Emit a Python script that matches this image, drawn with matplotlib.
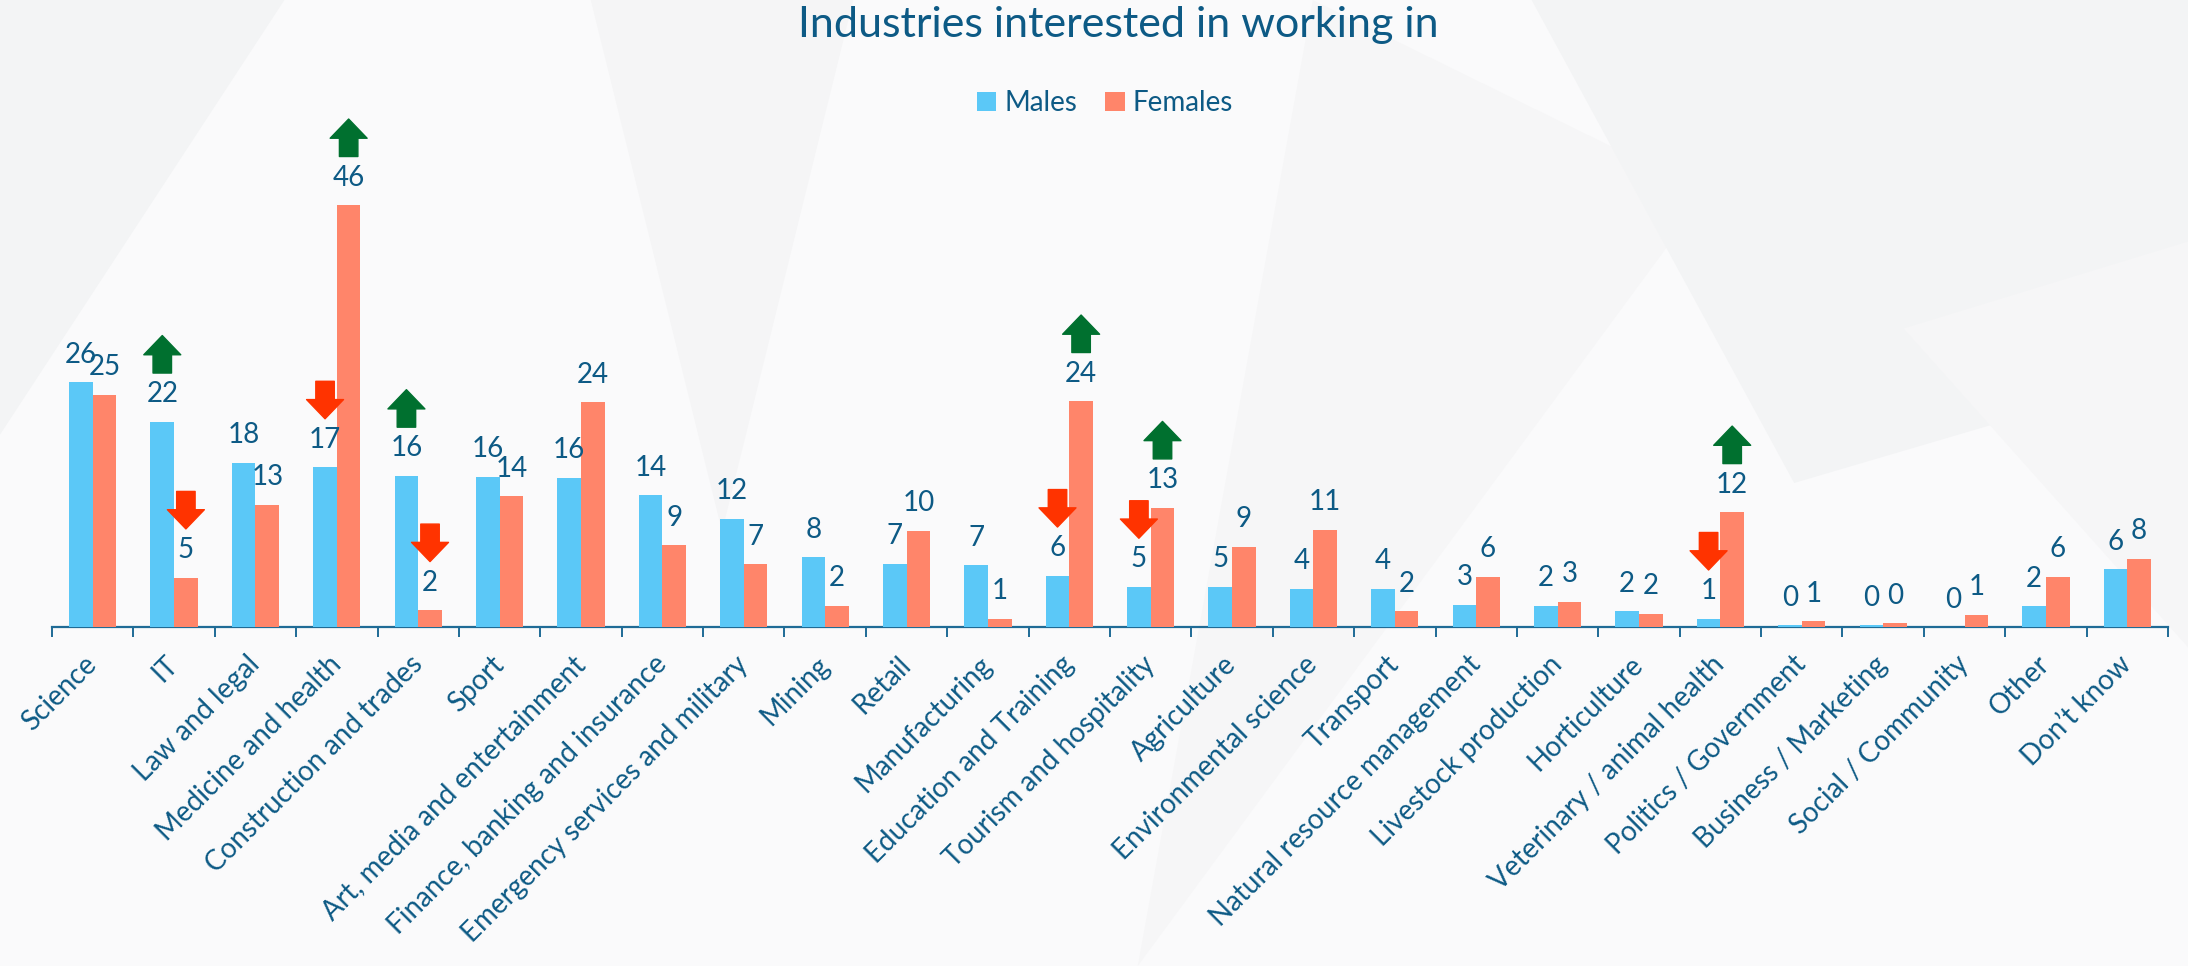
import numpy as np
import matplotlib.pyplot as plt
from matplotlib.transforms import offset_copy
from matplotlib.patches import Polygon

plt.rcParams['font.family'] = ['Lato', 'DejaVu Sans']

# data (bar heights in %, printed labels are rounded)
industries = ["Science", "IT", "Law and legal", "Medicine and health",
              "Construction and trades", "Sport", "Art, media and entertainment",
              "Finance, banking and insurance", "Emergency services and military",
              "Mining", "Retail", "Manufacturing", "Education and Training",
              "Tourism and hospitality", "Agriculture", "Environmental science",
              "Transport", "Natural resource management", "Livestock production",
              "Horticulture", "Veterinary / animal health", "Politics / Government",
              "Business / Marketing", "Social / Community", "Other", "Don\u2019t know"]
males = [26.2, 22.0, 17.6, 17.1, 16.2, 16.1, 16.0, 14.1, 11.6, 7.5, 6.8, 6.6, 5.5,
         4.3, 4.3, 4.1, 4.1, 2.4, 2.3, 1.7, 0.9, 0.2, 0.2, 0.0, 2.2, 6.2]
females = [24.9, 5.3, 13.1, 45.2, 1.8, 14.0, 24.1, 8.75, 6.7, 2.3, 10.3, 0.9, 24.2,
           12.8, 8.6, 10.4, 1.7, 5.4, 2.7, 1.4, 12.3, 0.6, 0.4, 1.3, 5.4, 7.3]
male_labels = [26, 22, 18, 17, 16, 16, 16, 14, 12, 8, 7, 7, 6, 5, 5, 4, 4, 3, 2, 2, 1, 0, 0, 0, 2, 6]
female_labels = [25, 5, 13, 46, 2, 14, 24, 9, 7, 2, 10, 1, 24, 13, 9, 11, 2, 6, 3, 2, 12, 1, 0, 1, 6, 8]
# change markers: (industry index, series, direction)
changes = [(1, "M", "up"), (1, "F", "down"),
           (3, "M", "down"), (3, "F", "up"),
           (4, "M", "up"), (4, "F", "down"),
           (12, "M", "down"), (12, "F", "up"),
           (13, "M", "down"), (13, "F", "up"),
           (20, "M", "down"), (20, "F", "up")]

blue = "#5BC8F7"
salmon = "#FF856A"
text_col = "#0D5A85"
green = "#00702F"
red = "#FF3300"

fig = plt.figure(figsize=(21.88, 9.66), dpi=100)
fig.patch.set_facecolor("#FAFAFB")

# faint geometric background
for pts, c in [
    ([(0.0, 1.0), (0.13, 1.0), (0.0, 0.55)], "#F3F4F5"),
    ([(0.27, 1.0), (0.39, 1.0), (0.33, 0.45)], "#F5F5F6"),
    ([(0.60, 1.0), (0.78, 0.80), (0.52, 0.0)], "#F6F6F7"),
    ([(0.70, 1.0), (1.0, 1.0), (1.0, 0.62), (0.82, 0.50)], "#F3F4F5"),
    ([(0.87, 0.66), (1.0, 0.33), (1.0, 0.75)], "#F6F6F7"),
]:
    fig.patches.append(Polygon(pts, closed=True, transform=fig.transFigure,
                               facecolor=c, edgecolor="none", zorder=-10))

ax = fig.add_axes([52 / 2188, 1 - 627 / 966, 2116 / 2188, 560 / 966])
ax.patch.set_alpha(0)

x = np.arange(len(industries))
w = 0.29
bm = ax.bar(x - w / 2, males, w, color=blue, label="Males", zorder=3)
bf = ax.bar(x + w / 2, females, w, color=salmon, label="Females", zorder=3)

ax.set_xlim(-0.5, len(industries) - 0.5)
ax.set_ylim(0, 60)

for xi, v, lab in zip(x - w / 2, males, male_labels):
    ax.annotate(str(lab), (xi, v), xytext=(0, 14), textcoords="offset points",
                ha="center", va="baseline", fontsize=20, color=text_col)
for xi, v, lab in zip(x + w / 2, females, female_labels):
    ax.annotate(str(lab), (xi, v), xytext=(0, 14), textcoords="offset points",
                ha="center", va="baseline", fontsize=20, color=text_col)

# arrows above labels
low = offset_copy(ax.transData, fig=fig, x=0, y=35, units="points")
high = offset_copy(ax.transData, fig=fig, x=0, y=62, units="points")
for idx, series, direction in changes:
    if series == "M":
        xi, v = x[idx] - w / 2, males[idx]
    else:
        xi, v = x[idx] + w / 2, females[idx]
    if direction == "up":
        head, tail, col = high, low, green
    else:
        head, tail, col = low, high, red
    ax.annotate("", xy=(xi, v), xycoords=head, xytext=(xi, v), textcoords=tail,
                arrowprops=dict(arrowstyle="simple,head_length=0.52,head_width=1.0,tail_width=0.5",
                                mutation_scale=26.6, color=col, shrinkA=0, shrinkB=0),
                zorder=4)

for s in ["top", "right", "left"]:
    ax.spines[s].set_visible(False)
ax.spines["bottom"].set_color("#1F6B96")
ax.spines["bottom"].set_linewidth(1.6)
ax.set_yticks([])
ax.set_xticks(x)
ax.set_xticklabels(industries, rotation=45, ha="right", va="center",
                   rotation_mode="anchor", fontsize=20, color=text_col)
ax.set_xticks(np.arange(len(industries) + 1) - 0.5, minor=True)
ax.tick_params(axis="x", which="major", length=0, pad=24)
ax.tick_params(axis="x", which="minor", length=7, width=1.4, color="#1F6B96")

fig.text(0.511, 1 - 25 / 966, "Industries interested in working in", ha="center",
         va="center", fontsize=31, color=text_col)
fig.legend(handles=[bm, bf], loc="center", bbox_to_anchor=(0.505, 1 - 103 / 966),
           ncol=2, frameon=False, fontsize=20, handlelength=0.7, handleheight=0.7,
           handletextpad=0.3, columnspacing=1.0, labelcolor=text_col)

fig.savefig("out.png", dpi=100, facecolor=fig.get_facecolor())
